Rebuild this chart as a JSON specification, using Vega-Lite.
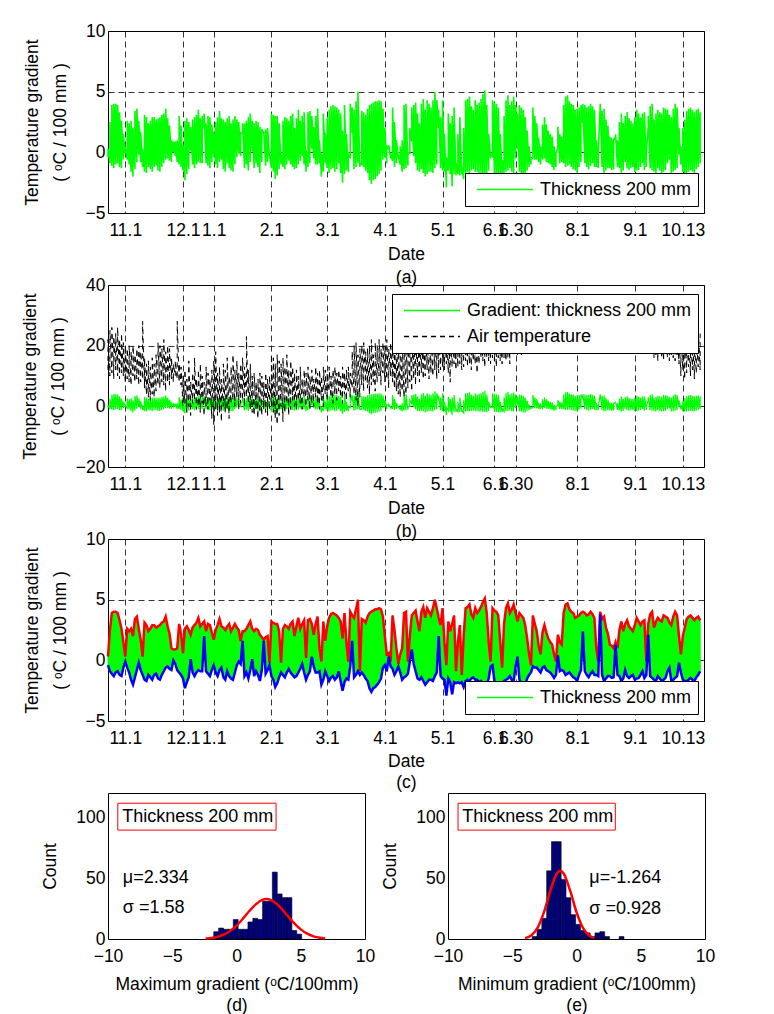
{
"$schema": "https://vega.github.io/schema/vega-lite/v6.json",
"background": "white",
"padding": {"left": 20, "top": 21, "right": 5, "bottom": 0},
"data": {"values": "t,mx,mn,ah,al\n0,0.3,-0.4,22,12\n1,2.5,-0.9,25,10\n2,3.9,-1.1,26,11\n3,4.0,-1.3,23,9\n4,4.0,-1.0,24,12\n5,3.9,-0.9,26,10\n6,3.3,-1.2,22,9\n7,2.6,-1.3,24,11\n8,1.5,-0.6,21,10\n9,0.3,-0.1,20,8\n10,2.6,-0.6,19,9\n11,2.4,-1.0,20,8\n12,2.6,-1.6,18,7\n13,2.0,-2.0,20,10\n14,3.4,-1.4,17,8\n15,3.6,-0.8,19,9\n16,2.6,-0.2,20,7\n17,1.7,-0.8,18,8\n18,0.3,-1.2,28,9\n19,3.1,-1.6,16,6\n20,2.9,-1.7,14,4\n21,2.4,-1.2,15,3\n22,2.6,-1.4,13,2\n23,2.9,-1.6,16,4\n24,2.9,-1.2,14,3\n25,2.7,-1.1,17,5\n26,2.8,-1.5,21,7\n27,2.9,-1.6,20,6\n28,3.1,-1.2,19,8\n29,3.2,-0.9,22,7\n30,3.6,-0.6,18,5\n31,2.8,-0.5,20,8\n32,2.2,-0.7,19,7\n33,1.0,-0.8,16,9\n34,0.9,0.0,14,8\n35,0.9,-0.3,15,10\n36,1.0,-0.8,28,9\n37,3.0,-1.0,14,8\n38,2.2,-1.2,13,7\n39,0.6,-1.5,10,0\n40,2.6,-2.3,12,1\n41,2.8,-1.8,9,-2\n42,2.5,-1.4,15,0\n43,2.1,0.1,8,-3\n44,2.7,-1.0,11,1\n45,2.9,-1.3,16,2\n46,3.1,-1.0,9,-1\n47,3.5,-0.8,12,0\n48,2.8,-0.9,14,-2\n49,3.0,-0.9,10,1\n50,3.2,2.0,8,-3\n51,2.4,-0.9,13,0\n52,3.0,-1.1,11,-1\n53,2.9,-1.3,9,2\n54,2.3,-0.8,12,-4\n55,1.7,-0.4,15,-6\n56,2.5,-1.0,18,-1\n57,2.9,-1.3,11,-3\n58,3.4,-0.8,13,-2\n59,2.8,-0.6,9,-5\n60,2.7,-1.4,14,0\n61,2.5,-1.6,12,-2\n62,2.8,-0.9,16,-1\n63,3.0,-1.3,10,-4\n64,2.4,-1.5,13,1\n65,2.7,-1.6,17,2\n66,3.0,-1.0,12,0\n67,2.7,-0.4,15,3\n68,2.5,-0.1,11,-1\n69,1.6,-0.3,14,1\n70,2.4,1.6,16,2\n71,2.4,-1.3,13,0\n72,2.6,-1.0,23,3\n73,2.9,-1.5,12,1\n74,3.2,-0.8,14,-1\n75,2.6,0.1,10,-2\n76,2.4,-1.3,11,-3\n77,2.6,-0.9,8,-1\n78,2.5,-1.2,9,-4\n79,2.1,-1.7,11,-2\n80,1.9,-0.8,10,-3\n81,1.7,1.6,8,-1\n82,1.9,-1.1,11,-2\n83,2.0,-0.8,9,-3\n84,-0.2,-0.4,10,-1\n85,3.2,-1.3,17,0\n86,3.1,-1.6,16,-2\n87,3.0,-2.2,14,-4\n88,3.0,-1.9,17,-6\n89,2.4,-1.4,15,-3\n90,-0.2,-1.0,14,0\n91,2.6,-1.2,16,-5\n92,2.9,-1.4,13,-2\n93,2.8,-1.0,17,1\n94,2.6,-0.7,12,-3\n95,3.0,-1.0,15,-1\n96,3.2,-1.2,13,2\n97,2.0,-1.4,11,0\n98,2.8,-1.3,12,-1\n99,3.5,-1.0,10,2\n100,2.6,-0.7,13,1\n101,3.0,-0.3,9,-1\n102,3.3,-1.0,12,3\n103,0.2,-1.6,11,0\n104,3.3,-1.2,13,2\n105,3.4,-0.9,10,-1\n106,3.0,0.3,12,1\n107,2.1,-0.5,9,0\n108,3.0,-1.0,13,3\n109,3.6,-1.0,11,1\n110,1.0,-0.9,12,-1\n111,-0.1,-2.0,10,2\n112,3.2,-1.6,13,0\n113,1.6,-0.9,12,4\n114,2.8,-1.3,11,2\n115,3.5,-1.7,13,5\n116,3.8,-1.4,10,3\n117,3.9,-1.3,12,1\n118,3.8,-1.6,13,4\n119,3.7,-1.4,11,2\n120,3.5,-0.9,12,5\n121,3.2,-1.7,10,3\n122,1.8,-2.5,13,1\n123,3.9,-1.8,11,4\n124,1.5,-1.5,12,2\n125,-0.1,-1.6,13,5\n126,4.0,-0.5,11,3\n127,3.7,1.6,18,6\n128,3.5,-1.4,20,4\n129,4.2,-1.2,21,2\n130,5.0,-0.9,17,0\n131,-0.9,-1.2,19,3\n132,3.4,-1.0,20,7\n133,3.3,-1.2,21,5\n134,3.1,-1.5,18,8\n135,3.6,-1.7,19,6\n136,3.9,-2.3,20,4\n137,4.0,-2.6,22,7\n138,4.1,-2.3,17,8\n139,4.2,-2.2,21,5\n140,4.2,-2.0,20,8\n141,4.3,-1.8,22,10\n142,4.2,-1.5,19,7\n143,3.6,-0.6,21,11\n144,2.0,-0.4,20,8\n145,0.5,-0.9,22,9\n146,0.6,0.3,19,6\n147,-0.1,-0.5,21,10\n148,3.7,-0.7,20,8\n149,2.5,-1.2,22,6\n150,1.0,-0.9,24,5\n151,-0.3,-0.5,21,4\n152,0.5,-1.0,23,3\n153,1.0,-1.6,22,5\n154,3.9,-1.4,24,3\n155,4.0,-1.3,21,4\n156,-0.1,-1.1,23,6\n157,2.0,-0.1,25,8\n158,3.7,0.9,22,5\n159,3.9,-0.3,24,9\n160,4.1,-0.9,23,7\n161,3.2,-1.5,25,10\n162,2.4,-1.6,24,8\n163,4.0,-1.4,26,11\n164,4.4,-1.7,25,9\n165,3.5,-2.0,27,10\n166,4.3,-1.8,24,12\n167,4.0,-1.6,26,9\n168,3.7,-1.6,25,11\n169,4.3,-1.7,27,10\n170,5.0,-1.3,26,12\n171,4.3,-1.0,28,9\n172,3.5,2.0,25,11\n173,2.9,-1.3,27,12\n174,4.3,-1.5,26,13\n175,1.5,-1.6,28,12\n176,-0.4,-2.9,27,14\n177,3.2,-1.5,29,11\n178,2.4,-1.8,26,8\n179,3.0,-2.8,28,13\n180,3.7,-1.8,27,14\n181,-0.9,-1.9,29,12\n182,1.5,-1.8,26,13\n183,2.9,-1.9,28,14\n184,-1.2,-1.8,27,12\n185,2.0,-2.2,29,13\n186,4.3,-1.7,28,15\n187,4.4,-1.6,30,13\n188,4.6,-1.7,27,14\n189,3.8,-1.5,29,12\n190,3.5,-1.4,28,15\n191,4.3,-1.6,30,14\n192,3.9,-1.6,29,11\n193,4.1,-1.8,31,14\n194,4.4,-1.7,28,16\n195,4.8,-1.9,30,15\n196,5.1,-1.9,29,13\n197,3.9,-1.9,31,16\n198,1.5,-1.5,28,15\n199,-0.1,-0.5,30,14\n200,4.3,-0.4,29,16\n201,4.1,-1.7,31,15\n202,4.0,-1.9,30,13\n203,3.7,-2.0,32,16\n204,1.5,-2.0,29,15\n205,-0.6,-1.9,31,14\n206,3.0,-1.7,30,16\n207,4.3,-1.6,32,15\n208,4.7,-1.5,29,16\n209,3.9,-1.3,31,14\n210,4.2,-1.6,30,17\n211,4.6,-1.7,32,17\n212,3.9,-0.5,31,18\n213,3.2,0.3,33,17\n214,3.9,-1.6,30,18\n215,3.7,-1.8,32,17\n216,3.5,-2.0,31,18\n217,2.9,-2.0,32,20\n218,1.8,-1.5,30,21\n219,0.5,-1.2,33,19\n220,-0.4,-1.0,31,22\n221,3.7,-0.5,29,20\n222,3.0,-0.6,32,21\n223,2.4,-0.6,30,23\n224,1.2,-0.8,33,20\n225,0.5,-1.0,31,22\n226,2.3,-0.6,29,21\n227,2.9,-0.5,32,23\n228,2.3,-0.8,30,20\n229,1.8,-0.9,33,22\n230,1.5,-1.0,31,21\n231,1.3,-1.2,29,23\n232,0.5,-1.45,32,22\n233,-0.1,-1.2,30,20\n234,2.1,0.4,33,24\n235,1.5,-0.9,31,22\n236,1.3,-0.8,29,21\n237,3.9,-0.9,32,23\n238,4.6,-1.2,30,22\n239,4.7,-1.1,33,20\n240,4.2,-1.0,31,21\n241,4.0,-1.2,32,23\n242,3.9,-1.4,30,22\n243,3.5,-1.5,29,20\n244,3.6,-1.7,31,23\n245,3.7,-1.2,33,21\n246,3.9,-0.8,30,22\n247,4.0,2.4,32,24\n248,3.9,-0.9,31,21\n249,3.7,-1.2,29,22\n250,3.8,-1.4,32,20\n251,4.0,-1.1,30,23\n252,3.8,-0.9,33,21\n253,3.5,-1.2,31,22\n254,1.0,-1.2,29,20\n255,-0.1,-1.3,32,21\n256,4.0,3.8,30,23\n257,3.4,-1.2,31,22\n258,3.6,-1.7,29,20\n259,2.7,-1.5,32,21\n260,2.2,-1.3,30,19\n261,1.3,-1.3,31,22\n262,1.2,-1.45,28,20\n263,1.0,-1.4,30,21\n264,1.5,1.3,29,19\n265,1.0,-1.2,31,20\n266,2.5,-1.3,28,22\n267,3.2,-1.7,30,20\n268,2.4,-1.5,29,19\n269,3.0,-0.8,31,21\n270,3.3,-1.3,28,20\n271,2.8,-1.45,30,19\n272,2.6,-1.3,29,21\n273,2.4,-1.2,27,20\n274,2.9,-1.6,30,19\n275,3.5,-1.5,28,21\n276,3.2,-1.45,29,20\n277,2.9,-1.2,27,19\n278,3.2,-0.9,30,20\n279,3.3,-1.45,28,19\n280,-0.1,-1.2,29,21\n281,3.0,2.1,27,19\n282,3.8,-1.3,28,20\n283,4.0,-1.45,27,18\n284,2.7,-1.6,26,16\n285,3.2,-1.7,28,17\n286,3.5,-1.3,25,15\n287,3.3,-1.5,27,17\n288,3.2,-1.7,26,16\n289,3.7,-1.6,28,15\n290,3.6,-1.45,25,17\n291,3.5,-0.9,27,16\n292,3.1,-0.6,26,15\n293,2.9,-1.7,24,17\n294,3.6,-1.6,26,16\n295,4.0,-1.45,25,15\n296,3.7,-1.3,24,17\n297,2.0,-0.2,23,14\n298,0.5,-1.0,25,10\n299,2.0,-1.6,22,12\n300,2.7,-1.7,24,9\n301,3.4,-1.7,21,11\n302,3.6,-1.6,23,13\n303,3.7,-1.45,22,10\n304,3.5,-1.6,24,12\n305,3.3,-1.7,21,9\n306,3.5,-1.4,23,11\n307,3.6,-1.2,26,13\n308,3.3,-0.9,24,12", "format": {"type": "csv", "parse": {"t": "number", "mx": "number", "mn": "number", "ah": "number", "al": "number"}}},
"config": {
  "font": "Liberation Sans",
  "view": {"stroke": "black", "strokeWidth": 1},
  "axis": {"labelFont": "Liberation Sans", "titleFont": "Liberation Sans", "labelFontSize": 17.5, "titleFontSize": 17.5, "titleFontWeight": "normal", "labelColor": "black", "titleColor": "black", "domain": false, "ticks": false, "gridColor": "black", "gridDash": [6, 4], "gridWidth": 0.8, "gridOpacity": 1, "labelOverlap": false, "labelFlush": false, "labelBound": false},
  "axisX": {"labelPadding": 8, "titlePadding": 7, "titleLineHeight": 23},
  "axisY": {"labelPadding": 3, "titlePadding": 16, "titleLineHeight": 28},
  "legend": {"labelFont": "Liberation Sans", "labelFontSize": 18, "labelColor": "black", "fillColor": "white", "strokeColor": "black", "padding": 6.5, "symbolType": "stroke", "symbolSize": 3136, "symbolStrokeWidth": 1.3, "clipHeight": 20, "rowPadding": 6, "labelOffset": 6, "symbolOffset": 4.5, "labelLimit": 400, "orient": "none"},
  "text": {"font": "Liberation Sans", "fontSize": 18, "color": "black"}
},
"spacing": 0,
"resolve": {"scale": {"color": "independent", "strokeDash": "independent"}, "legend": {"color": "independent", "strokeDash": "independent"}},
"vconcat": [
 {
  "bounds": "flush",
  "spacing": 72,
  "resolve": {"scale": {"color": "independent", "strokeDash": "independent"}, "legend": {"color": "independent", "strokeDash": "independent"}},
  "vconcat": [
   {
    "width": 596, "height": 182,
    "transform": [{"fold": ["mn", "mx"], "as": ["k", "g"]}],
    "mark": {"type": "line", "strokeWidth": 1.6},
    "encoding": {
      "x": {"field": "t", "type": "quantitative", "scale": {"domain": [0, 310], "nice": false, "zero": false}, "axis": {"values": [9, 39, 55, 85, 114, 144, 174, 201, 212, 244, 274, 299], "labelExpr": "['11.1','12.1','1.1','2.1','3.1','4.1','5.1','6.1','6.30','8.1','9.1','10.13'][indexof([9,39,55,85,114,144,174,201,212,244,274,299], datum.value)]", "title": ["Date", "(a)"]}},
      "y": {"field": "g", "type": "quantitative", "scale": {"domain": [-5, 10], "nice": false, "zero": false}, "axis": {"values": [-5, 0, 5, 10], "title": ["Temperature gradient", "( ᵒC / 100 mm )"]}},
      "color": {"datum": "Thickness 200 mm", "scale": {"domain": ["Thickness 200 mm"], "range": ["#00ff00"]}, "legend": {"title": null, "legendX": 357, "legendY": 142, "encode": {"symbols": {"update": {"stroke": {"value": "#00ff00"}, "strokeWidth": {"value": 1.3}, "opacity": {"value": 1}}}}}}
    }
   },
   {
    "width": 596, "height": 182,
    "encoding": {
      "x": {"field": "t", "type": "quantitative", "scale": {"domain": [0, 310], "nice": false, "zero": false}, "axis": {"values": [9, 39, 55, 85, 114, 144, 174, 201, 212, 244, 274, 299], "labelExpr": "['11.1','12.1','1.1','2.1','3.1','4.1','5.1','6.1','6.30','8.1','9.1','10.13'][indexof([9,39,55,85,114,144,174,201,212,244,274,299], datum.value)]", "title": ["Date", "(b)"]}},
      "y": {"field": "g", "type": "quantitative", "scale": {"domain": [-20, 40], "nice": false, "zero": false}, "axis": {"values": [-20, 0, 20, 40], "titlePadding": 8, "title": ["Temperature gradient", "( ᵒC / 100 mm )"]}}
    },
    "layer": [
     {
      "transform": [{"fold": ["mn", "mx"], "as": ["k", "g"]}],
      "mark": {"type": "line", "strokeWidth": 1.2},
      "encoding": {
        "color": {"datum": "Gradient: thickness 200 mm", "scale": {"domain": ["Gradient: thickness 200 mm", "Air temperature"], "range": ["#00ff00", "#000000"]}, "legend": {"title": null, "legendX": 284, "legendY": 9, "encode": {"symbols": {"update": {"stroke": {"signal": "datum.value === 'Air temperature' ? '#000000' : '#00ff00'"}, "strokeWidth": {"value": 1.3}, "opacity": {"value": 1}}}}}},
        "strokeDash": {"datum": "Gradient: thickness 200 mm", "scale": {"domain": ["Gradient: thickness 200 mm", "Air temperature"], "range": [[1, 0], [5, 4]]}, "legend": {"title": null, "legendX": 284, "legendY": 9, "encode": {"symbols": {"update": {"stroke": {"signal": "datum.value === 'Air temperature' ? '#000000' : '#00ff00'"}, "strokeWidth": {"value": 1.3}, "opacity": {"value": 1}}}}}}
      }
     },
     {
      "transform": [{"fold": ["al", "ah"], "as": ["k", "g"]}],
      "mark": {"type": "line", "strokeWidth": 1},
      "encoding": {
        "color": {"datum": "Air temperature"},
        "strokeDash": {"datum": "Air temperature"}
      }
     }
    ]
   },
   {
    "width": 596, "height": 182,
    "encoding": {
      "x": {"field": "t", "type": "quantitative", "scale": {"domain": [0, 310], "nice": false, "zero": false}, "axis": {"values": [9, 39, 55, 85, 114, 144, 174, 201, 212, 244, 274, 299], "labelExpr": "['11.1','12.1','1.1','2.1','3.1','4.1','5.1','6.1','6.30','8.1','9.1','10.13'][indexof([9,39,55,85,114,144,174,201,212,244,274,299], datum.value)]", "titlePadding": 6, "titleLineHeight": 21, "title": ["Date", "(c)"]}}
    },
    "layer": [
     {
      "mark": {"type": "area", "color": "#00ff00"},
      "encoding": {
        "y": {"field": "mx", "type": "quantitative", "scale": {"domain": [-5, 10], "nice": false, "zero": false}, "axis": {"values": [-5, 0, 5, 10], "title": ["Temperature gradient", "( ᵒC / 100 mm )"]}},
        "y2": {"field": "mn"}
      }
     },
     {
      "transform": [{"fold": ["mn", "mx"], "as": ["k", "g"]}],
      "mark": {"type": "line", "strokeWidth": 1},
      "encoding": {
        "y": {"field": "g", "type": "quantitative", "scale": {"domain": [-5, 10], "nice": false, "zero": false}, "axis": {"values": [-5, 0, 5, 10], "title": ["Temperature gradient", "( ᵒC / 100 mm )"]}},
        "color": {"datum": "Thickness 200 mm", "scale": {"domain": ["Thickness 200 mm"], "range": ["#00ff00"]}, "legend": {"title": null, "legendX": 357, "legendY": 142, "encode": {"symbols": {"update": {"stroke": {"value": "#00ff00"}, "strokeWidth": {"value": 1.3}, "opacity": {"value": 1}}}}}}
      }
     },
     {
      "mark": {"type": "line", "color": "#ff0000", "strokeWidth": 2.5},
      "encoding": {
        "y": {"field": "mx", "type": "quantitative", "scale": {"domain": [-5, 10], "nice": false, "zero": false}, "axis": {"values": [-5, 0, 5, 10], "title": ["Temperature gradient", "( ᵒC / 100 mm )"]}}
      }
     },
     {
      "mark": {"type": "line", "color": "#0000ff", "strokeWidth": 2.5},
      "encoding": {
        "y": {"field": "mn", "type": "quantitative", "scale": {"domain": [-5, 10], "nice": false, "zero": false}, "axis": {"values": [-5, 0, 5, 10], "title": ["Temperature gradient", "( ᵒC / 100 mm )"]}}
      }
     }
    ]
   }
  ]
 },
 {
  "bounds": "flush",
  "spacing": 83,
  "hconcat": [
   {
    "width": 257, "height": 146,
    "layer": [
     {
      "data": {"values": [{"a": -1.77, "b": -1.39, "n": 6}, {"a": -1.39, "b": -1.01, "n": 9}, {"a": -1.01, "b": -0.63, "n": 8}, {"a": -0.63, "b": -0.25, "n": 8}, {"a": -0.25, "b": 0.13, "n": 16}, {"a": 0.13, "b": 0.51, "n": 8}, {"a": 0.51, "b": 0.89, "n": 8}, {"a": 0.89, "b": 1.27, "n": 14}, {"a": 1.27, "b": 1.65, "n": 17}, {"a": 1.65, "b": 2.03, "n": 16}, {"a": 2.03, "b": 2.41, "n": 31}, {"a": 2.41, "b": 2.79, "n": 31}, {"a": 2.79, "b": 3.17, "n": 55}, {"a": 3.17, "b": 3.55, "n": 37}, {"a": 3.55, "b": 3.93, "n": 34}, {"a": 3.93, "b": 4.31, "n": 34}, {"a": 4.31, "b": 4.69, "n": 7}, {"a": 4.69, "b": 5.07, "n": 4}]},
      "mark": {"type": "rect", "color": "#000080", "stroke": "black", "strokeWidth": 0.6},
      "encoding": {
        "x": {"field": "a", "type": "quantitative", "scale": {"domain": [-10, 10], "nice": false, "zero": false}, "axis": {"values": [-10, -5, 0, 5, 10], "grid": false, "labelPadding": 8, "titlePadding": 11, "titleLineHeight": 21, "title": ["Maximum gradient (ᵒC/100mm)", "(d)"]}},
        "x2": {"field": "b"},
        "y": {"field": "n", "type": "quantitative", "scale": {"domain": [0, 120], "nice": false}, "axis": {"values": [0, 50, 100], "grid": false, "title": [" ", "Count"], "titleLineHeight": 16}},
        "y2": {"datum": 0}
      }
     },
     {
      "data": {"values": [{"x": -2.4, "f": 0.37}, {"x": -2, "f": 0.76}, {"x": -1.5, "f": 1.73}, {"x": -1, "f": 3.54}, {"x": -0.5, "f": 6.57}, {"x": 0, "f": 11.0}, {"x": 0.5, "f": 16.7}, {"x": 1, "f": 23.0}, {"x": 1.5, "f": 28.5}, {"x": 2, "f": 32.1}, {"x": 2.334, "f": 32.8}, {"x": 2.5, "f": 32.6}, {"x": 3, "f": 30.0}, {"x": 3.5, "f": 25.0}, {"x": 4, "f": 18.8}, {"x": 4.5, "f": 12.8}, {"x": 5, "f": 7.9}, {"x": 5.5, "f": 4.4}, {"x": 6, "f": 2.2}, {"x": 6.5, "f": 1.0}, {"x": 6.9, "f": 0.5}]},
      "mark": {"type": "line", "color": "#ff0000", "strokeWidth": 2.5, "interpolate": "monotone"},
      "encoding": {
        "x": {"field": "x", "type": "quantitative", "scale": {"domain": [-10, 10], "nice": false, "zero": false}},
        "y": {"field": "f", "type": "quantitative", "scale": {"domain": [0, 120], "nice": false}}
      }
     },
     {
      "data": {"values": [{}]},
      "mark": {"type": "rect", "filled": false, "color": "#ff0000", "strokeWidth": 1},
      "encoding": {"x": {"datum": -9.24, "type": "quantitative"}, "x2": {"datum": 3.08}, "y": {"datum": 111.6, "type": "quantitative"}, "y2": {"datum": 89.5}}
     },
     {
      "data": {"values": [{}]},
      "mark": {"type": "text", "align": "left", "baseline": "middle"},
      "encoding": {"x": {"datum": -8.9, "type": "quantitative"}, "y": {"datum": 100.5, "type": "quantitative"}, "text": {"value": "Thickness 200 mm"}}
     },
     {
      "data": {"values": [{}]},
      "mark": {"type": "text", "align": "left", "baseline": "middle"},
      "encoding": {"x": {"datum": -8.85, "type": "quantitative"}, "y": {"datum": 50, "type": "quantitative"}, "text": {"value": "μ=2.334"}}
     },
     {
      "data": {"values": [{}]},
      "mark": {"type": "text", "align": "left", "baseline": "middle"},
      "encoding": {"x": {"datum": -8.85, "type": "quantitative"}, "y": {"datum": 25.5, "type": "quantitative"}, "text": {"value": "σ =1.58"}}
     }
    ]
   },
   {
    "width": 257, "height": 146,
    "layer": [
     {
      "data": {"values": [{"a": -3.45, "b": -3.074, "n": 2}, {"a": -3.074, "b": -2.698, "n": 8}, {"a": -2.698, "b": -2.322, "n": 17}, {"a": -2.322, "b": -1.946, "n": 56}, {"a": -1.946, "b": -1.57, "n": 80}, {"a": -1.57, "b": -1.194, "n": 80}, {"a": -1.194, "b": -0.818, "n": 49}, {"a": -0.818, "b": -0.442, "n": 34}, {"a": -0.442, "b": -0.066, "n": 20}, {"a": -0.066, "b": 0.31, "n": 12}, {"a": 0.31, "b": 0.686, "n": 7}, {"a": 0.686, "b": 1.062, "n": 5}, {"a": 1.062, "b": 1.438, "n": 2}, {"a": 1.438, "b": 1.814, "n": 5}, {"a": 1.814, "b": 2.19, "n": 6}, {"a": 2.19, "b": 2.566, "n": 2}, {"a": 3.318, "b": 3.694, "n": 2}]},
      "mark": {"type": "rect", "color": "#000080", "stroke": "black", "strokeWidth": 0.6},
      "encoding": {
        "x": {"field": "a", "type": "quantitative", "scale": {"domain": [-10, 10], "nice": false, "zero": false}, "axis": {"values": [-10, -5, 0, 5, 10], "grid": false, "labelPadding": 8, "titlePadding": 11, "titleLineHeight": 21, "title": ["Minimum gradient (ᵒC/100mm)", "(e)"]}},
        "x2": {"field": "b"},
        "y": {"field": "n", "type": "quantitative", "scale": {"domain": [0, 120], "nice": false}, "axis": {"values": [0, 50, 100], "grid": false, "title": "Count"}},
        "y2": {"datum": 0}
      }
     },
     {
      "data": {"values": [{"x": -4.0, "f": 0.73}, {"x": -3.5, "f": 3.07}, {"x": -3.0, "f": 9.7}, {"x": -2.5, "f": 23.1}, {"x": -2.0, "f": 40.9}, {"x": -1.5, "f": 54.2}, {"x": -1.264, "f": 56}, {"x": -1.0, "f": 53.8}, {"x": -0.5, "f": 39.9}, {"x": 0, "f": 22.1}, {"x": 0.5, "f": 9.2}, {"x": 1.0, "f": 2.9}, {"x": 1.4, "f": 0.9}]},
      "mark": {"type": "line", "color": "#ff0000", "strokeWidth": 2.5, "interpolate": "monotone"},
      "encoding": {
        "x": {"field": "x", "type": "quantitative", "scale": {"domain": [-10, 10], "nice": false, "zero": false}},
        "y": {"field": "f", "type": "quantitative", "scale": {"domain": [0, 120], "nice": false}}
      }
     },
     {
      "data": {"values": [{}]},
      "mark": {"type": "rect", "filled": false, "color": "#ff0000", "strokeWidth": 1},
      "encoding": {"x": {"datum": -9.22, "type": "quantitative"}, "x2": {"datum": 3.02}, "y": {"datum": 111.6, "type": "quantitative"}, "y2": {"datum": 89.5}}
     },
     {
      "data": {"values": [{}]},
      "mark": {"type": "text", "align": "left", "baseline": "middle"},
      "encoding": {"x": {"datum": -8.9, "type": "quantitative"}, "y": {"datum": 100.5, "type": "quantitative"}, "text": {"value": "Thickness 200 mm"}}
     },
     {
      "data": {"values": [{}]},
      "mark": {"type": "text", "align": "left", "baseline": "middle"},
      "encoding": {"x": {"datum": 1.0, "type": "quantitative"}, "y": {"datum": 50, "type": "quantitative"}, "text": {"value": "μ=-1.264"}}
     },
     {
      "data": {"values": [{}]},
      "mark": {"type": "text", "align": "left", "baseline": "middle"},
      "encoding": {"x": {"datum": 1.0, "type": "quantitative"}, "y": {"datum": 25, "type": "quantitative"}, "text": {"value": "σ =0.928"}}
     }
    ]
   }
  ]
 }
]
}
